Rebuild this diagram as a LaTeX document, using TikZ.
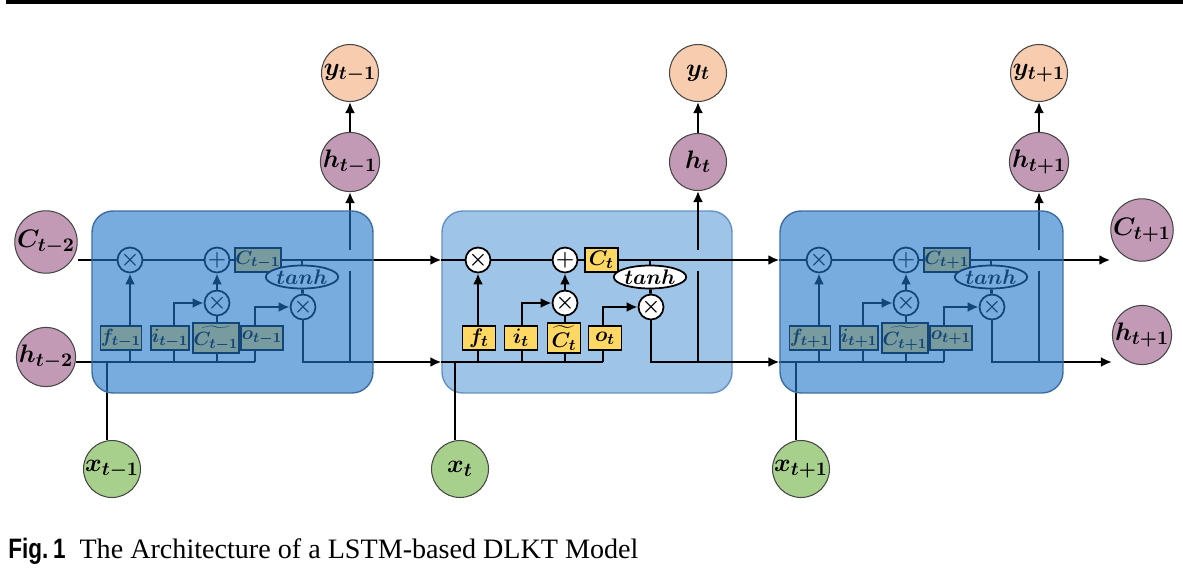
\documentclass[tikz,border=0pt]{standalone}
\usepackage{amsmath}
\usepackage{bm}
\usepackage[no-math]{fontspec}
\setmainfont{Liberation Serif}
\newfontfamily\figfont[FakeStretch=0.8]{Liberation Sans}
\usetikzlibrary{arrows.meta,shapes.geometric}
\definecolor{statepink}{RGB}{194,154,182}
\definecolor{outpeach}{RGB}{248,204,174}
\definecolor{ingreen}{RGB}{168,208,141}
\definecolor{ringgray}{RGB}{70,70,70}
\definecolor{gateyellow}{RGB}{255,216,100}
\definecolor{midfill}{RGB}{158,196,231}
\definecolor{midedge}{RGB}{100,145,195}
\definecolor{sidefill}{RGB}{30,115,200}
\definecolor{sideedge}{RGB}{60,110,160}

\pgfdeclarelayer{background}
\pgfdeclarelayer{foreground}
\pgfsetlayers{background,main,foreground}

\tikzset{
  wire/.style={line width=1.5pt},
  flow/.style={wire, -{Latex[length=2.2mm,width=2mm]}},
  state/.style={circle, draw=ringgray, line width=0.6pt, minimum size=1.14cm, inner sep=0pt, font=\fontsize{15.5}{15.5}\selectfont},
  cstate/.style={state, fill=statepink},
  ystate/.style={state, fill=outpeach},
  xstate/.style={state, fill=ingreen},
  op/.style={circle, draw=black, fill=white, line width=1pt, minimum size=0.5cm, inner sep=0pt, font=\fontsize{12}{12}\selectfont},
  gatebox/.style={rectangle, draw=black, fill=gateyellow, line width=1pt, minimum width=0.66cm, minimum height=0.49cm, inner xsep=1pt, inner ysep=1.5pt, font=\fontsize{13}{13}\selectfont},
  sidegate/.style={font=\fontsize{11}{11}\selectfont, inner xsep=0.3pt},
  act/.style={ellipse, draw=black, fill=white, line width=1pt, minimum width=1.16cm, minimum height=0.46cm, inner sep=0pt, font=\fontsize{13}{13}\selectfont},
  lstmcell/.style={rectangle, rounded corners=0.42cm, minimum height=3.64cm, line width=0.8pt},
  midcell/.style={lstmcell, fill=midfill, draw=midedge},
  sidecell/.style={lstmcell, fill=sidefill, fill opacity=0.6, draw=sideedge}
}

\begin{document}
\begin{tikzpicture}[x=0.02cm, y=-0.02cm]
  \useasboundingbox (0,0) rectangle (1183,585);
  % rule along the top
  \fill (6,0) rectangle (1183,3.5);

  % cells: the middle one sits under its wires, the outer two are laid over theirs
  \begin{pgfonlayer}{background}
    \node[midcell, minimum width=5.8cm] (cellB) at (587,302) {};
  \end{pgfonlayer}
  \begin{pgfonlayer}{foreground}
    \node[sidecell, minimum width=5.62cm] (cellA) at (232.5,302) {};
    \node[sidecell, minimum width=5.66cm] (cellC) at (921.5,302) {};
  \end{pgfonlayer}

  % inside of each cell (\sp spreads the wider gate boxes of the outer cells)
  \foreach \k/\dx/\sub/\sp/\gstyle in {1/-348/{t-1}/1/sidegate, 2/0/t/0/{}, 3/341/{t+1}/1/sidegate} {
    \begin{scope}[shift={(\dx,0)}]
      \node[op] (fx\k) at (478,260) {$\bm{\times}$};
      \node[op] (add\k) at (565,260) {$\bm{+}$};
      \node[gatebox, \gstyle, anchor=west] (c\k) at (584-2*\sp,260) {$\bm{C_{\sub}}$};
      \node[act] (tanh\k) at (650,277) {$\bm{tanh}$};
      \node[op] (ix\k) at (565,303) {$\bm{\times}$};
      \node[op] (ox\k) at (651,307) {$\bm{\times}$};
      \node[gatebox, \gstyle] (f\k) at (479-10*\sp,338) {$\bm{f_{\sub}}$};
      \node[gatebox, \gstyle] (i\k) at (521-3*\sp,338) {$\bm{i_{\sub}}$};
      \node[gatebox, \gstyle] (g\k) at (564-0*\sp,338) {$\bm{\widetilde{C_{\sub}}}$};
      \node[gatebox, \gstyle] (o\k) at (605+5*\sp,338) {$\bm{o_{\sub}}$};
      \coordinate (il\k) at (522,338);
      \coordinate (ol\k) at (603,338);
      \coordinate (hl\k) at (442,362);
      \coordinate (hv\k) at (698,362);
      \node[cstate] (ht\k) at (698,162) {$\bm{h_{\sub}}$};
      \node[ystate] (yt\k) at (698,73) {$\bm{y_{\sub}}$};
      \node[xstate] (xt\k) at (460,469) {$\bm{x_{\sub}}$};

      \draw[wire] (fx\k) -- (add\k) -- (c\k);
      \draw[flow] (f\k.north -| fx\k) -- (fx\k);
      \draw[flow] (i\k.north -| il\k) |- (ix\k);
      \draw[wire] (g\k.north -| ix\k) -- (ix\k);
      \draw[flow] (ix\k) -- (add\k);
      \draw[flow] (o\k.north -| ol\k) |- (ox\k);
      \draw[wire] (tanh\k.north) -- (tanh\k.north |- c\k.east);
      \draw[wire] (tanh\k) -- (ox\k);
      \draw[wire] (f\k.south -| fx\k) -- (fx\k |- hl\k);
      \draw[wire] (i\k.south -| il\k) -- (il\k |- hl\k);
      \draw[wire] (g\k.south -| ix\k) -- (ix\k |- hl\k);
      \draw[wire] (o\k.south -| ol\k) -- (ol\k |- hl\k);
      \draw[wire] (hv\k) -- ([yshift=-0.22cm]hv\k |- c\k.east);
      \draw[flow] ([yshift=0.2cm]hv\k |- c\k.east) -- (ht\k);
      \draw[flow] (ht\k) -- (yt\k);
      \draw[wire] ([xshift=-0.1cm]xt\k.north) -- ([xshift=-0.1cm]xt\k.north |- hl\k);
    \end{scope}
  }

  % states entering and leaving the chain
  \node[cstate] (Cprev) at (46,242) {$\bm{C_{t-2}}$};
  \node[cstate] (hprev) at (46,357) {$\bm{h_{t-2}}$};
  \node[cstate] (Cnext) at (1142,230) {$\bm{C_{t+1}}$};
  \node[cstate] (hnext) at (1142,335) {$\bm{h_{t+1}}$};

  % cell state line
  \draw[wire] (Cprev.east |- fx1) -- (fx1);
  \draw[flow] (c1.east) -- (cellB.west |- c1.east);
  \draw[wire] (cellB.west |- fx2) -- (fx2);
  \draw[flow] (c2.east) -- (cellC.west |- c2.east);
  \draw[wire] (cellC.west |- fx3) -- (fx3);
  \draw[flow] (c3.east) -- (Cnext.west |- c3.east);

  % hidden state line
  \draw[wire] (hprev.east |- hl1) -- (ol1 |- hl1);
  \draw[flow] (ox1) |- (cellB.west |- hl1);
  \draw[wire] (cellB.west |- hl2) -- (ol2 |- hl2);
  \draw[flow] (ox2) |- (cellC.west |- hl2);
  \draw[wire] (cellC.west |- hl3) -- (ol3 |- hl3);
  \draw[flow] (ox3) |- (hnext.west |- hl3);

  % caption
  \node[anchor=base west, inner sep=0pt, font=\fontsize{16}{16}\selectfont] (caption) at (8,558)
    {{\figfont\bfseries Fig.\,1}\hspace{8pt}The Architecture of a LSTM-based DLKT Model};
\end{tikzpicture}
\end{document}
